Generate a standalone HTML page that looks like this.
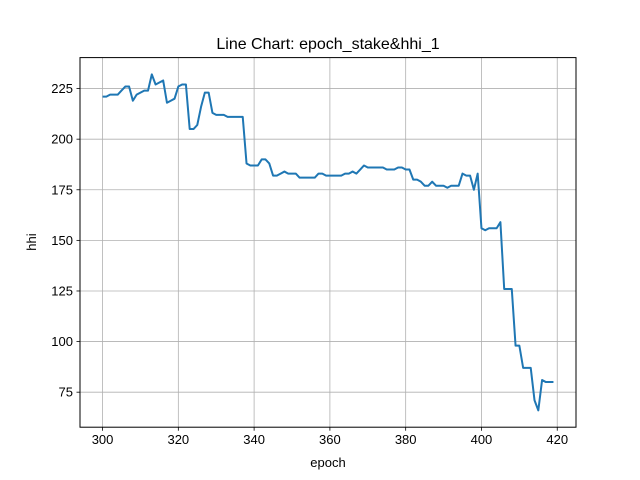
<!DOCTYPE html>
<html><head><meta charset="utf-8"><style>
body{margin:0;background:#fff;}
svg{display:block;font-family:"Liberation Sans","DejaVu Sans",sans-serif;}
</style></head><body>
<svg id="chart" width="640" height="480">
<rect width="640" height="480" fill="#fff"/>
<text x="328" y="49" text-anchor="middle" font-size="16">Line Chart: epoch_stake&amp;hhi_1</text>
<text x="328" y="467" text-anchor="middle" font-size="13">epoch</text>
<text x="36" y="242" text-anchor="middle" font-size="13" transform="rotate(-90 36 242)">hhi</text>
<g id="grid"></g>
<g id="ticks"></g>
<g id="series"></g>
<rect x="80" y="57.6" width="496" height="369.6" fill="none" stroke="#000" stroke-width="1"/>
</svg>
<script>
const epochStart = 300;
const hhiValues = [221,221,222,222,222,224,226,226,219,222,223,224,224,232,227,228,229,218,219,220,
226,227,227,205,205,207,216,223,223,213,212,212,212,211,211,211,211,211,188,187,
187,187,190,190,188,182,182,183,184,183,183,183,181,181,181,181,181,183,183,182,
182,182,182,182,183,183,184,183,185,187,186,186,186,186,186,185,185,185,186,186,
185,185,180,180,179,177,177,179,177,177,177,176,177,177,177,183,182,182,175,183,
156,155,156,156,156,159,126,126,126,98,98,87,87,87,71,66,81,80,80,80];
const xTicks = [300,320,340,360,380,400,420];
const yTicks = [75,100,125,150,175,200,225];

const NS = "http://www.w3.org/2000/svg";
const L=80,R=576,T=57.6,B=427.2;
const xs = hhiValues.map((v,i)=>epochStart+i);
const xmin=Math.min(...xs),xmax=Math.max(...xs),xm=(xmax-xmin)*0.05;
const ymin=Math.min(...hhiValues),ymax=Math.max(...hhiValues),ym=(ymax-ymin)*0.05;
const X=v=>L+(v-(xmin-xm))/((xmax+xm)-(xmin-xm))*(R-L);
const Y=v=>B-(v-(ymin-ym))/((ymax+ym)-(ymin-ym))*(B-T);
function mk(tag,attrs,parent){const e=document.createElementNS(NS,tag);for(const k in attrs)e.setAttribute(k,attrs[k]);parent.appendChild(e);return e;}
const grid=document.getElementById('grid'),ticks=document.getElementById('ticks'),series=document.getElementById('series');
xTicks.forEach(t=>{const x=X(t);
 const g=mk('line',{x1:x,x2:x,y1:T,y2:B,stroke:'#b0b0b0','stroke-width':0.8},grid);
 
 
 const tk=mk('line',{x1:x,x2:x,y1:B,y2:B+3.5,stroke:'#000','stroke-width':0.8},ticks);
 
 
 const lb=mk('text',{x:x,y:B+17,'text-anchor':'middle','font-size':13},ticks);lb.textContent=t;
 
 
});
yTicks.forEach(t=>{const y=Y(t);
 const g=mk('line',{x1:L,x2:R,y1:y,y2:y,stroke:'#b0b0b0','stroke-width':0.8},grid);
 
 
 const tk=mk('line',{x1:L-3.5,x2:L,y1:y,y2:y,stroke:'#000','stroke-width':0.8},ticks);
 
 
 const lb=mk('text',{x:L-7,y:y+4.5,'text-anchor':'end','font-size':13},ticks);lb.textContent=t;
 
 
});
const pts=hhiValues.map((v,i)=>X(xs[i]).toFixed(2)+','+Y(v).toFixed(2)).join(' ');
const pl=mk('polyline',{points:pts,fill:'none',stroke:'#1f77b4','stroke-width':2,'stroke-linejoin':'round'},series);


</script>
</body></html>
